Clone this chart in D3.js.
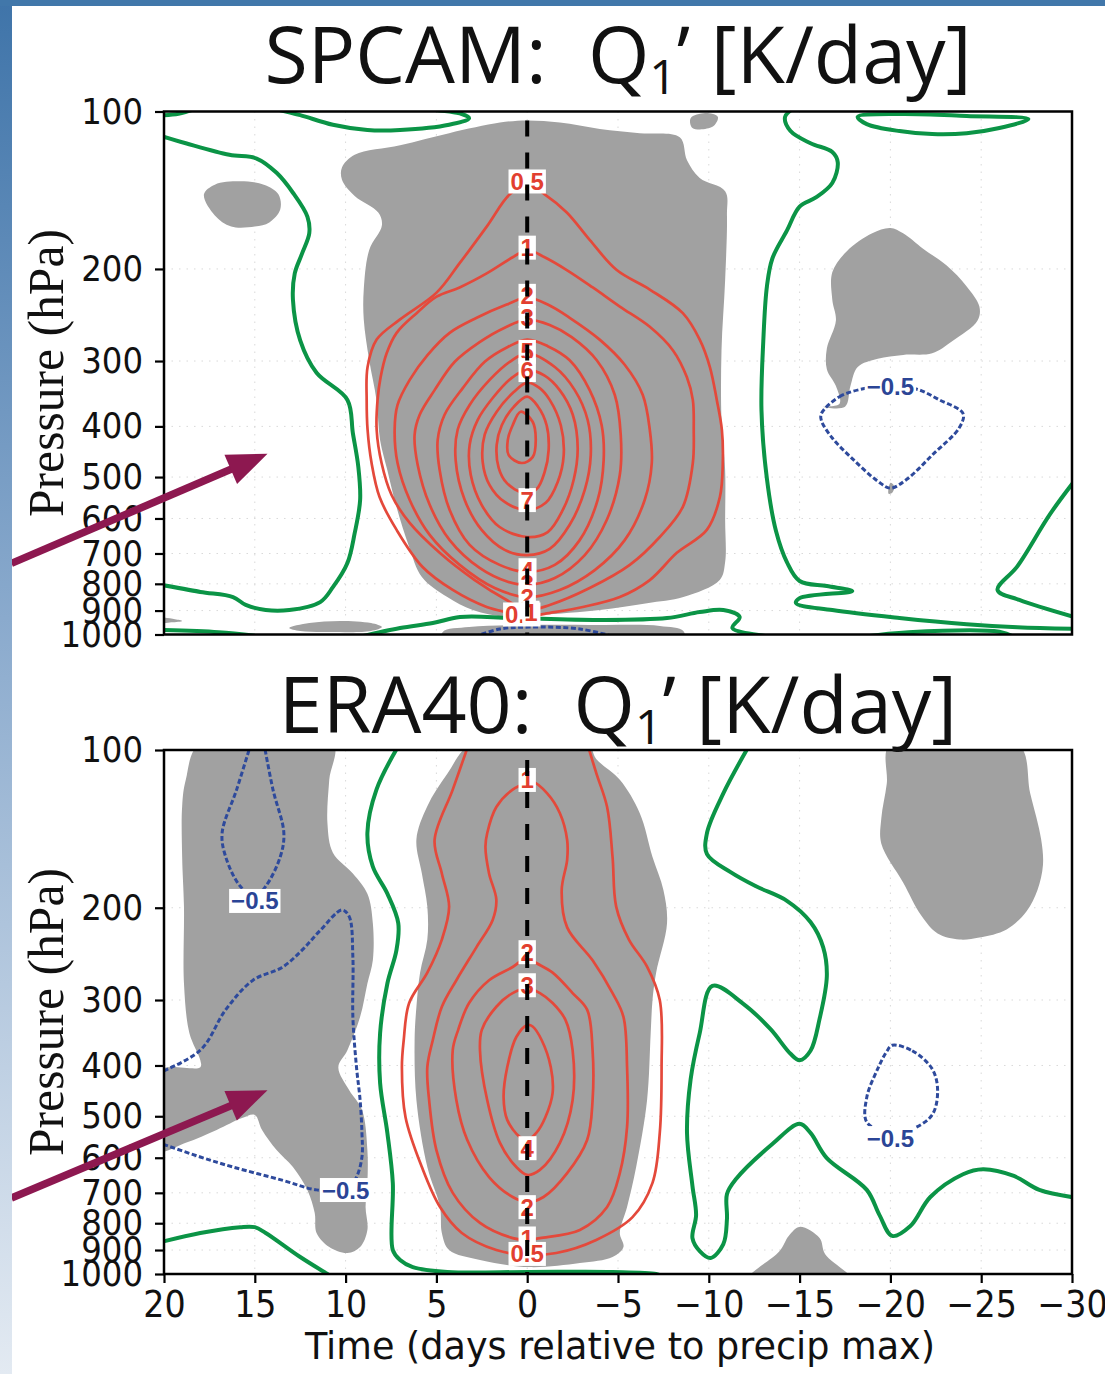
<!DOCTYPE html>
<html>
<head>
<meta charset="utf-8">
<script src="https://cdn.jsdelivr.net/npm/d3@7"></script>
<style>
  body { margin: 0; background: #fff; }
  svg { display: block; }
</style>
</head>
<body>
<div id="chart"></div>
<script>
// ---- axes ----
const dayTicks = [20, 15, 10, 5, 0, -5, -10, -15, -20, -25, -30];
const pressureTicks = [100, 200, 300, 400, 500, 600, 700, 800, 900, 1000];

// ---- SPCAM: shading  [day, hPa] ----
const spcamShadeCore = [[10.2,128],[9.5,121],[7.0,116],[4.3,110],[1.5,105],[0,104],[-1.8,105],[-4.0,108],[-6.2,110],[-8.4,112],[-8.8,124],[-9.5,134],[-10.9,142],[-11.0,158],[-10.9,210],[-10.7,286],[-10.7,389],[-10.9,485],[-10.9,604],[-10.9,727],[-10.6,787],[-8.6,848],[-6.6,871],[-4.0,898],[-0.7,918],[1.1,926],[3.0,898],[4.4,848],[5.8,776],[6.5,680],[7.2,570],[7.7,485],[8.1,425],[8.3,356],[8.7,299],[9.0,250],[9.0,219],[8.7,184],[8.0,165],[8.2,156],[9.5,145],[10.2,135]];
const spcamShadeWest = [[17.8,144],[17.2,138],[15.8,136],[14.5,138],[13.7,144],[13.6,154],[14.2,163],[15.0,166],[16.3,166],[17.2,158]];
const spcamShadeTop = [[-9.0,103],[-9.8,100.7],[-10.5,102.4],[-10.2,107],[-9.1,107.5]];
const spcamShadeEast = [[-20.0,167],[-19.0,171],[-17.6,185],[-16.8,203],[-16.8,229],[-17.0,251],[-16.5,284],[-16.5,311],[-17.0,335],[-17.2,362],[-16.3,367],[-17.5,367],[-17.8,335],[-18.2,308],[-19.3,297],[-20.7,292],[-22.3,290],[-23.4,275],[-24.8,251],[-24.9,236],[-24.2,216],[-23.1,197],[-21.8,183],[-20.7,171]];
const spcamShadeSpeck = [[-20.0,513],[-20.2,520],[-20.1,536],[-19.9,538]];
const spcamShadeSfcW = [[13.1,972],[12.0,951],[10.3,942],[8.6,951],[8.0,968],[8.6,985],[10.9,989],[12.5,985]];
const spcamShadeSfc = [[4.65,1040],[4.65,989],[3.2,968],[0.4,959],[-4.0,959],[-7.3,963],[-8.6,985],[-8.6,1040]];
const spcamShadeCorner = [[20.4,930],[19.4,935],[19.0,942],[19.6,948],[20.4,950]];

// ---- SPCAM: positive contours ----
const spcamQ05 = [[0,138],[0.96,144],[2.23,166],[3.72,195],[4.99,222],[7.02,250],[8.29,273],[8.79,308],[8.84,356],[8.79,406],[8.57,470],[8.13,546],[7.19,631],[5.76,743],[4.10,822],[2.23,886],[0.96,909],[0,926],[-0.96,913],[-3.06,886],[-5.10,848],[-6.75,787],[-8.24,698],[-9.89,631],[-10.61,546],[-10.77,470],[-10.72,406],[-10.44,356],[-10.06,308],[-9.50,273],[-8.57,243],[-6.75,219],[-4.93,201],[-3.44,176],[-2.18,156],[-0.96,144]];
const spcamQ1 = [[0,184],[0.80,190],[2.23,204],[3.72,217],[4.99,226],[6.09,243],[7.19,265],[7.74,290],[8.07,322],[8.24,356],[8.29,406],[8.02,470],[7.47,541],[6.47,612],[4.82,698],[2.89,787],[1.13,859],[0,898],[-1.24,878],[-3.44,815],[-5.65,736],[-7.30,651],[-8.57,570],[-9.12,470],[-9.17,406],[-9.12,356],[-8.79,322],[-8.02,286],[-6.75,258],[-5.10,236],[-3.61,217],[-2.18,201],[-0.96,190]];
const spcamQ2 = [[0,227],[1.13,234],[2.78,248],[4.27,265],[5.48,292],[6.47,326],[7.14,364],[7.30,406],[7.14,470],[6.47,553],[5.37,645],[3.72,736],[1.79,815],[0,848],[-1.79,822],[-3.72,753],[-5.37,660],[-6.47,553],[-6.86,470],[-6.75,406],[-6.36,348],[-5.37,305],[-3.99,273],[-2.34,248],[-1.13,234]];
const spcamQ3 = [[0,250],[1.24,259],[2.62,276],[3.99,301],[5.10,341],[5.92,380],[6.20,415],[6.03,474],[5.37,565],[4.27,660],[2.62,746],[1.07,793],[0,804],[-1.52,780],[-3.17,705],[-4.38,604],[-5.10,495],[-5.15,415],[-4.82,348],[-3.83,299],[-2.45,270],[-1.24,256]];
const spcamQ4 = [[0,273],[1.07,282],[2.34,301],[3.55,338],[4.55,380],[4.93,425],[4.82,485],[4.27,578],[3.17,674],[1.52,736],[0,759],[-1.52,736],[-2.89,660],[-3.88,553],[-4.21,464],[-4.10,398],[-3.44,341],[-2.34,299],[-1.13,281]];
const spcamQ5 = [[0,290],[0.96,301],[2.07,326],[3.17,364],[3.83,406],[3.94,464],[3.44,553],[2.51,631],[1.24,689],[0,705],[-1.24,686],[-2.34,617],[-3.17,529],[-3.50,454],[-3.33,389],[-2.62,341],[-1.52,308]];
const spcamQ6 = [[0,312],[0.85,323],[1.90,353],[2.73,389],[3.17,434],[3.11,495],[2.51,565],[1.52,623],[0,651],[-1.13,637],[-1.96,578],[-2.56,506],[-2.78,440],[-2.51,380],[-1.79,341],[-0.96,320]];
const spcamQ7 = [[0,330],[0.74,344],[1.68,375],[2.34,415],[2.45,468],[2.07,518],[1.24,558],[0,578],[-1.02,560],[-1.68,511],[-2.01,454],[-1.85,398],[-1.24,356],[-0.69,338]];
const spcamQ8 = [[0,351],[0.74,367],[1.40,398],[1.68,434],[1.57,480],[1.13,513],[0.19,536],[-0.52,527],[-0.96,489],[-1.18,444],[-1.07,398],[-0.58,366]];
const spcamQ9 = [[0.36,375],[0.80,398],[1.07,425],[1.02,454],[0.30,470],[-0.30,458],[-0.47,425],[-0.30,392]];

// ---- SPCAM: zero lines ----
const spcamZeroWest = [[20.3,111],[18.8,115],[16.4,121],[14.9,123],[13.8,131],[12.9,143],[12.1,159],[12.0,171],[12.4,187],[12.8,204],[12.9,229],[12.5,274],[11.6,316],[9.9,356],[9.6,412],[9.3,478],[9.2,553],[9.5,640],[9.9,730],[10.7,812],[11.4,867],[13.1,898],[14.4,898],[15.5,878],[16.2,848],[18.0,829],[20.3,802]];
const spcamZeroCorner = [[20.3,101.8],[19.2,101],[18.3,99]];
const spcamZeroTop = [[13.8,99],[12.5,101.6],[10.7,106],[8.8,108.5],[7.0,108.5],[4.3,106],[3.2,103],[3.6,101.1],[5.5,99]];
const spcamZeroLens = [[-18.2,102.4],[-20.5,101.1],[-24.2,102],[-27.6,103.4],[-26.0,107.5],[-24.2,110],[-22.3,110.4],[-20.5,109],[-18.7,105.7]];
const spcamZeroEast = [[-14.8,98],[-14.2,102.4],[-14.5,109],[-15.6,115],[-16.8,119.5],[-17.1,125],[-16.8,137],[-15.9,146],[-15.0,152],[-14.3,169],[-13.5,191],[-13.2,216],[-13.0,275],[-12.9,372],[-13.2,504],[-13.7,634],[-14.3,727],[-15.0,790],[-16.5,808],[-17.9,826],[-15.0,852],[-14.8,871],[-16.8,898],[-20.5,930],[-24.2,956],[-27.0,969],[-30.3,976]];
const spcamZeroRim = [[-30.3,500],[-28.8,588],[-27.0,740],[-25.9,822],[-27.1,859],[-30.3,930]];
const spcamZeroSfcW = [[20.3,980],[17.0,990],[15.0,1005]];
const spcamZeroSfc = [[9.2,1010],[7.0,972],[5.2,951],[3.7,926],[0.8,930],[-4.0,938],[-7.7,930],[-9.5,906],[-10.8,898],[-11.7,926],[-11.3,972],[-13.5,1010]];
const spcamZeroSfcE = [[-18.5,1010],[-21.0,990],[-26.0,988],[-26.8,1010]];

// ---- SPCAM: negative contours ----
const spcamNegEast = [[-16.2,378],[-17.2,351],[-18.7,338],[-20.1,335],[-21.5,340],[-22.7,356],[-24.0,378],[-23.8,402],[-22.3,454],[-20.9,505],[-20.0,525],[-19.3,509],[-17.9,461],[-16.8,421],[-16.2,390]];
const spcamNegSfc = [[2.9,1010],[1.5,976],[-0.1,968],[-2.9,976],[-4.8,1010]];

// ---- SPCAM labels [value, day, hPa] ----
const spcamPosLabels = [[0.5,0,136],[1,0,182],[2,0,225],[3,0,248],[5,0,288],[6,0,312],[7,0,553],[4,0,753],[3,0,797],[2,0,848],[0.5,0.3,915],[1,-0.2,908]];
const spcamNegLabels = [[-0.5,-20.0,335]];

// ---- ERA40: shading ----
const eraShadeWest = [[18.0,97],[10.7,97],[10.9,114],[11.0,138],[10.7,157],[9.6,172],[8.8,188],[8.5,214],[8.5,252],[8.8,279],[9.2,323],[9.9,374],[10.4,403],[9.8,446],[9.1,486],[8.8,580],[8.8,670],[8.9,745],[8.8,824],[9.2,888],[9.9,912],[10.9,888],[11.6,835],[11.7,765],[12.1,692],[12.9,625],[13.8,580],[14.6,531],[15.0,497],[15.7,504],[17.1,531],[18.8,562],[20.4,582],[20.4,410],[18.0,403],[18.0,391],[18.6,347],[18.9,279],[18.9,199],[19.0,160],[19.0,128],[18.8,114]];
const eraShadeCore = [[3.0,97],[4.4,111],[5.5,128],[6.1,148],[5.8,172],[5.5,199],[5.5,230],[5.9,266],[6.1,309],[6.2,358],[6.1,466],[5.5,625],[4.8,745],[4.7,835],[4.3,900],[2.6,940],[-0.1,970],[-2.9,953],[-4.7,928],[-5.3,888],[-5.1,835],[-5.5,745],[-6.0,625],[-6.6,466],[-6.8,347],[-6.9,300],[-7.1,266],[-7.7,214],[-7.5,185],[-6.9,160],[-6.2,132],[-5.1,114],[-3.8,104],[-3.3,97]];
const eraShadeEast = [[-20.0,97],[-27.0,97],[-27.7,121],[-28.3,148],[-28.4,166],[-28.1,185],[-27.5,203],[-26.4,220],[-24.9,228],[-23.8,230],[-22.6,224],[-21.7,207],[-20.7,179],[-19.5,151],[-19.5,135],[-19.8,116]];
const eraShadeSfc = [[-12.1,1030],[-13.9,904],[-14.4,846],[-15.0,813],[-16.1,854],[-16.4,916],[-17.9,1030]];

// ---- ERA40: positive contours ----
const eraQ05 = [[3.2,97],[4.1,119],[5.1,148.5],[4.7,172],[4.3,199],[4.7,230],[5.5,266],[6.5,304],[6.8,358],[6.9,403],[6.7,502],[5.8,625],[4.8,745],[3.6,835],[1.7,900],[0,920],[-1.6,912],[-3.8,861],[-5.8,779],[-6.9,670],[-7.3,538],[-7.4,403],[-7.3,300],[-6.6,259],[-5.6,230],[-4.9,199],[-4.7,160],[-4.4,128.5],[-3.8,110.6],[-3.3,97]];
const eraQ1 = [[0,115.6],[0.8,119],[1.7,128.5],[2.2,144],[2.3,153],[2.1,172],[1.7,193],[1.9,211],[2.8,238],[3.9,275],[4.7,309],[5.2,358],[5.5,403],[5.4,466],[5.0,580],[4.1,700],[2.6,799],[0.8,854],[0,861],[-0.7,854],[-2.9,824],[-4.4,745],[-5.1,642],[-5.5,524],[-5.5,403],[-5.3,323],[-4.7,291],[-3.6,252],[-2.2,218],[-1.9,185],[-2.2,162],[-2.2,148.5],[-1.8,132],[-1.1,121],[-0.3,115]];
const eraQ2 = [[0,249],[0.8,259.5],[2.1,275],[3.2,304],[3.8,342],[4.1,374],[3.9,466],[3.3,555],[2.1,653],[0.8,713],[0,729],[-0.9,713],[-2.2,642],[-3.3,555],[-3.6,466],[-3.6,374],[-3.3,313],[-2.5,291],[-1.4,266],[-0.5,255]];
const eraQ3 = [[0,285],[0.8,291],[1.7,309],[2.5,342],[2.6,374],[2.2,466],[1.5,562],[0.6,625],[0,647],[-0.7,633],[-1.8,562],[-2.5,466],[-2.5,374],[-2.1,327],[-1.4,304],[-0.7,291]];
const eraQ4 = [[0,335],[0.6,353],[1.1,403],[1.3,460],[1.1,508],[0.4,548],[0,555],[-0.5,538],[-1.0,502],[-1.4,451],[-1.3,403],[-0.8,358],[-0.3,337]];

// ---- ERA40: zero lines ----
const eraZeroWest = [[20.4,873],[18.0,835],[15.8,814],[15.0,814],[14.4,835],[12.5,928],[11.0,1000],[10.8,1010]];
const eraZeroMid = [[7.0,97],[8.3,119],[8.8,144],[8.5,167],[7.7,188],[7.1,214],[7.2,241],[7.7,279],[8.1,347],[8.1,432],[7.7,538],[7.4,671],[7.4,900],[7.0,940],[6.3,970],[4.4,991],[-0.1,991],[-4.7,991],[-7.1,1000],[-7.4,1010]];
const eraZeroEast = [[-12.3,97],[-10.8,121],[-9.9,144],[-9.9,158],[-11.2,171],[-12.6,182],[-14.3,194],[-15.6,213],[-16.3,238],[-16.5,270],[-16.1,326],[-15.6,375],[-15.0,391],[-14.5,380],[-13.4,341],[-11.9,305],[-10.2,282],[-9.5,347],[-9.0,425],[-8.8,538],[-9.1,679],[-9.3,772],[-9.1,854],[-9.5,904],[-10.1,932],[-10.8,877],[-11.0,785],[-11.0,704],[-11.5,659],[-13.5,565],[-15.0,517],[-15.6,538],[-16.5,601],[-18.7,691],[-19.4,772],[-20.1,846],[-21.1,810],[-22.2,713],[-24.0,645],[-25.1,631],[-26.8,650],[-28.2,691],[-30.3,716]];

// ---- ERA40: negative contours ----
const eraNegTop = [[15.2,97],[16.0,119],[16.8,144],[16.6,160],[15.8,182],[15.0,190],[14.4,182],[13.6,160],[13.4,144],[14.0,119],[14.5,97]];
const eraNegWest = [[20.4,415],[18.0,374],[16.6,313],[15.1,275],[13.5,260],[12.4,241],[11.4,221],[10.2,202],[9.8,208],[9.6,248],[9.6,323],[9.4,403],[9.2,466],[9.1,538],[9.1,598],[9.4,653],[9.9,690],[11.6,691],[13.5,662],[16.2,625],[18.0,598],[20.4,560]];
const eraNegEast = [[-20.1,366],[-21.2,375],[-22.3,406],[-22.6,446],[-22.3,497],[-21.2,529],[-20.0,540],[-18.7,513],[-18.7,460],[-19.3,406],[-19.8,376]];

// ---- ERA40 labels ----
const eraPosLabels = [[1,0,114],[2,0,243],[3,0,281],[4,0,575],[2,0,745],[1,0,855],[0.5,0,915]];
const eraNegLabels = [[-0.5,15.0,194],[-0.5,10.0,691],[-0.5,-20.0,550]];

// ---- annotation arrows [day, hPa] ----
const spcamArrow = { tail: [28.4, 731], tip: [14.3, 451] };
const eraArrow = { tail: [28.4, 716], tip: [14.3, 446] };

// ---------------------------------------------------------------
const W = 1105, H = 1374;
const plotLeft = 164, plotRight = 1072;
const tickFont = "'Liberation Sans Narrow', 'DejaVu Sans Condensed', sans-serif";

const svg = d3.select("#chart").append("svg")
  .attr("width", W).attr("height", H)
  .attr("viewBox", `0 0 ${W} ${H}`);

const defs = svg.append("defs");
const grad = defs.append("linearGradient").attr("id", "sideBlue")
  .attr("x1", 0).attr("x2", 0).attr("y1", 0).attr("y2", 1);
grad.append("stop").attr("offset", "0%").attr("stop-color", "#3f74a9");
grad.append("stop").attr("offset", "45%").attr("stop-color", "#8aaacd");
grad.append("stop").attr("offset", "100%").attr("stop-color", "#e3eaf2");

const panels = [
  {
    key: "spcam", name: "SPCAM", top: 111.5, bottom: 634.5, titleY: 83, dashFrom: 104,
    shades: [spcamShadeCore, spcamShadeWest, spcamShadeTop, spcamShadeEast, spcamShadeSpeck, spcamShadeSfcW, spcamShadeSfc, spcamShadeCorner],
    pos: [[0.5, spcamQ05, true], [1, spcamQ1, true], [2, spcamQ2, true], [3, spcamQ3, true], [4, spcamQ4, true],
          [5, spcamQ5, true], [6, spcamQ6, true], [7, spcamQ7, true], [8, spcamQ8, true], [9, spcamQ9, true]],
    zero: [[spcamZeroWest, false], [spcamZeroCorner, false], [spcamZeroTop, false], [spcamZeroLens, true],
           [spcamZeroEast, false], [spcamZeroRim, false], [spcamZeroSfcW, false], [spcamZeroSfc, false], [spcamZeroSfcE, false]],
    neg: [[spcamNegEast, true], [spcamNegSfc, false]],
    posLabels: spcamPosLabels, negLabels: spcamNegLabels,
    arrow: spcamArrow, xAxis: false
  },
  {
    key: "era", name: "ERA40", top: 750, bottom: 1274, titleY: 733, dashFrom: 104.5,
    shades: [eraShadeWest, eraShadeCore, eraShadeEast, eraShadeSfc],
    pos: [[0.5, eraQ05, false], [1, eraQ1, true], [2, eraQ2, true], [3, eraQ3, true], [4, eraQ4, true]],
    zero: [[eraZeroWest, false], [eraZeroMid, false], [eraZeroEast, false]],
    neg: [[eraNegTop, false], [eraNegWest, false], [eraNegEast, true]],
    posLabels: eraPosLabels, negLabels: eraNegLabels,
    arrow: eraArrow, xAxis: true
  }
];

const fmtLevel = v => (v < 0 ? "\u2212" : "") + Math.abs(v);

function drawPanel(cfg) {
  const x = d3.scaleLinear().domain([20, -30]).range([plotLeft, plotRight]);
  const y = d3.scaleLog().domain([100, 1000]).range([cfg.top, cfg.bottom]);

  defs.append("clipPath").attr("id", "clip-" + cfg.key)
    .append("rect")
    .attr("x", plotLeft).attr("y", cfg.top)
    .attr("width", plotRight - plotLeft).attr("height", cfg.bottom - cfg.top);

  const g = svg.append("g").attr("clip-path", `url(#clip-${cfg.key})`);

  // faint dotted grid
  g.selectAll(".vgrid").data(dayTicks.slice(1, -1)).enter().append("line")
    .attr("x1", d => x(d)).attr("x2", d => x(d))
    .attr("y1", cfg.top).attr("y2", cfg.bottom)
    .attr("stroke", "#d9d9d9").attr("stroke-width", 1).attr("stroke-dasharray", "1.5,6");
  g.selectAll(".hgrid").data(pressureTicks.slice(1, -1)).enter().append("line")
    .attr("x1", plotLeft).attr("x2", plotRight)
    .attr("y1", d => y(d)).attr("y2", d => y(d))
    .attr("stroke", "#d9d9d9").attr("stroke-width", 1).attr("stroke-dasharray", "1.5,6");

  const closedLine = d3.line().x(d => x(d[0])).y(d => y(d[1]))
    .curve(d3.curveCatmullRomClosed.alpha(0.5));
  const openLine = d3.line().x(d => x(d[0])).y(d => y(d[1]))
    .curve(d3.curveCatmullRom.alpha(0.5));
  const pathOf = (pts, closed) => (closed ? closedLine : openLine)(pts);

  // gray shading
  g.selectAll(".shade").data(cfg.shades).enter().append("path")
    .attr("d", d => closedLine(d))
    .attr("fill", "#a1a1a1");

  // zero contour
  g.selectAll(".zero").data(cfg.zero).enter().append("path")
    .attr("d", d => pathOf(d[0], d[1]))
    .attr("fill", "none").attr("stroke", "#0b9446")
    .attr("stroke-width", 4).attr("stroke-linejoin", "round");

  // positive contours
  g.selectAll(".pos").data(cfg.pos).enter().append("path")
    .attr("d", d => pathOf(d[1], d[2]))
    .attr("fill", "none").attr("stroke", "#e4493b")
    .attr("stroke-width", 2.7).attr("stroke-linejoin", "round");

  // negative contours
  g.selectAll(".neg").data(cfg.neg).enter().append("path")
    .attr("d", d => pathOf(d[0], d[1]))
    .attr("fill", "none").attr("stroke", "#2e4a9c")
    .attr("stroke-width", 3).attr("stroke-dasharray", "5,2.5");

  // contour labels
  const addLabels = (data, color, size) => {
    const lab = g.selectAll(null).data(data).enter().append("g")
      .attr("transform", d => `translate(${x(d[1])},${y(d[2])})`);
    const txt = lab.append("text")
      .attr("text-anchor", "middle").attr("dy", "0.36em")
      .attr("font-family", "'Liberation Sans', Arial, sans-serif")
      .attr("font-weight", "bold").attr("font-size", size)
      .attr("fill", color)
      .text(d => fmtLevel(d[0]));
    txt.each(function () {
      const b = this.getBBox();
      d3.select(this.parentNode).insert("rect", "text")
        .attr("x", b.x - 2).attr("y", b.y + 1.5)
        .attr("width", b.width + 4).attr("height", b.height - 3)
        .attr("fill", "#fff");
    });
  };
  addLabels(cfg.posLabels, "#e23f30", 24);
  addLabels(cfg.negLabels, "#2b4596", 24);

  // dashed reference line at day 0
  g.append("line")
    .attr("x1", x(0)).attr("x2", x(0))
    .attr("y1", y(cfg.dashFrom)).attr("y2", y(1000))
    .attr("stroke", "#000").attr("stroke-width", 4)
    .attr("stroke-dasharray", "16,16");

  // frame
  svg.append("rect")
    .attr("x", plotLeft).attr("y", cfg.top)
    .attr("width", plotRight - plotLeft).attr("height", cfg.bottom - cfg.top)
    .attr("fill", "none").attr("stroke", "#000").attr("stroke-width", 2.5);

  // y axis
  svg.append("g")
    .attr("transform", `translate(${plotLeft},0)`)
    .call(d3.axisLeft(y).tickValues(pressureTicks).tickFormat(d3.format("d"))
      .tickSize(9).tickPadding(12))
    .call(a => a.select(".domain").remove())
    .call(a => a.selectAll("line").attr("stroke", "#000").attr("stroke-width", 2.2))
    .call(a => a.selectAll("text").attr("fill", "#111"))
    .attr("font-family", tickFont).attr("font-size", 36);

  // y title
  svg.append("text")
    .attr("transform", `translate(63,${(cfg.top + cfg.bottom) / 2}) rotate(-90)`)
    .attr("text-anchor", "middle")
    .attr("font-family", "'Liberation Serif', 'Times New Roman', serif")
    .attr("font-size", 50).attr("fill", "#111")
    .attr("textLength", 288).attr("lengthAdjust", "spacingAndGlyphs")
    .text("Pressure (hPa)");

  // x axis (bottom panel only)
  if (cfg.xAxis) {
    svg.append("g")
      .attr("transform", `translate(0,${cfg.bottom})`)
      .call(d3.axisBottom(x).tickValues(dayTicks)
        .tickFormat(d => d < 0 ? "\u2212" + (-d) : String(d))
        .tickSize(9).tickPadding(8))
      .call(a => a.select(".domain").remove())
      .call(a => a.selectAll("line").attr("stroke", "#000").attr("stroke-width", 2.2))
      .call(a => a.selectAll("text").attr("fill", "#111"))
      .attr("font-family", tickFont).attr("font-size", 37);

    svg.append("text")
      .attr("x", (plotLeft + plotRight) / 2 + 2).attr("y", 1359)
      .attr("text-anchor", "middle")
      .attr("font-family", tickFont).attr("font-size", 37).attr("fill", "#111")
      .attr("textLength", 630).attr("lengthAdjust", "spacingAndGlyphs")
      .text("Time (days relative to precip max)");
  }

  // title
  const t = svg.append("text")
    .attr("x", (plotLeft + plotRight) / 2).attr("y", cfg.titleY)
    .attr("text-anchor", "middle")
    .attr("font-family", "'Open Sans', 'Noto Sans', sans-serif")
    .attr("font-size", 79).attr("fill", "#111")
    .style("white-space", "pre");
  t.append("tspan").text(cfg.name + ":  Q");
  t.append("tspan").attr("font-size", 48).attr("dy", 11).text("1");
  t.append("tspan").attr("dy", -11).text("\u2019 [K/day]");

  // annotation arrow
  const ax0 = x(cfg.arrow.tail[0]), ay0 = y(cfg.arrow.tail[1]);
  const ax1 = x(cfg.arrow.tip[0]), ay1 = y(cfg.arrow.tip[1]);
  const len = Math.hypot(ax1 - ax0, ay1 - ay0);
  const ux = (ax1 - ax0) / len, uy = (ay1 - ay0) / len;
  const headLen = 40, headHalf = 16;
  const bx = ax1 - ux * headLen, by = ay1 - uy * headLen;
  svg.append("line")
    .attr("x1", ax0).attr("y1", ay0).attr("x2", bx + ux * 4).attr("y2", by + uy * 4)
    .attr("stroke", "#8d1850").attr("stroke-width", 7.5);
  svg.append("path")
    .attr("d", `M${ax1},${ay1}L${bx - uy * headHalf},${by + ux * headHalf}L${bx + uy * headHalf},${by - ux * headHalf}Z`)
    .attr("fill", "#8d1850");
}

panels.forEach(drawPanel);

// side and top bands
svg.append("rect").attr("x", 0).attr("y", 0).attr("width", 12).attr("height", H).attr("fill", "url(#sideBlue)");
svg.append("rect").attr("x", 0).attr("y", 0).attr("width", W).attr("height", 6).attr("fill", "#4177aa");
</script>
</body>
</html>
